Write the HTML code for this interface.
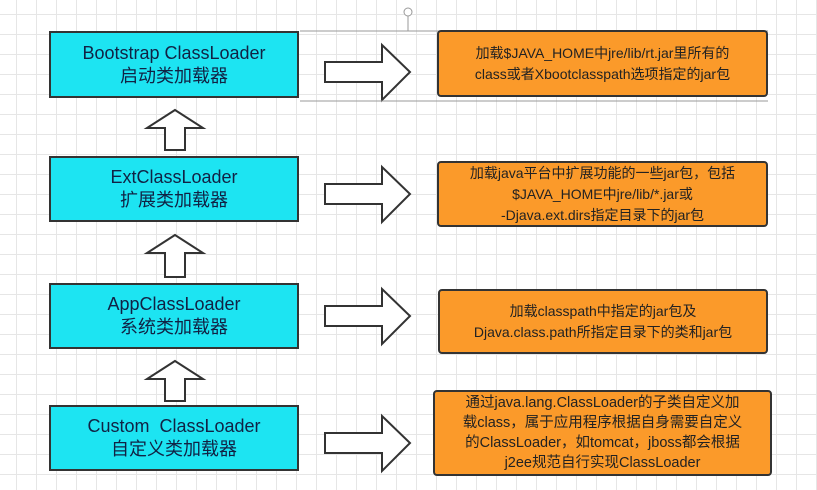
<!DOCTYPE html>
<html><head><meta charset="utf-8"><style>
body{margin:0;width:817px;height:490px;overflow:hidden;background:#fff;
background-image:linear-gradient(#e6e6e6 1px,transparent 1px),linear-gradient(90deg,#e6e6e6 1px,transparent 1px);background-size:20px 20px;background-position:-4px -6px;
font-family:"Liberation Sans","Noto Sans CJK SC",sans-serif;position:relative}
.c{position:absolute;left:49px;width:250px;background:#1de4f2;border:2px solid #333;box-sizing:border-box;text-align:center;font-size:18px;color:#124;line-height:23px;display:flex;flex-direction:column;justify-content:center}
.o{position:absolute;background:#fb9a2a;border:2px solid #333;border-radius:4px;box-sizing:border-box;text-align:center;font-size:14px;color:#222;line-height:21px;display:flex;flex-direction:column;justify-content:center}
svg{position:absolute;left:0;top:0}
</style></head><body>
<svg width="817" height="490">
<g fill="#fff" stroke="#333" stroke-width="2">
<polygon points="325,62 382,62 382,45 410,72 382,100 382,82 325,82"/>
<polygon points="325,184 382,184 382,167 410,194 382,222 382,204 325,204"/>
<polygon points="325,306 382,306 382,289 410,316 382,344 382,326 325,326"/>
<polygon points="325,433 382,433 382,416 410,443 382,471 382,453 325,453"/>
<polygon points="175,110 203,128 185,128 185,150 165,150 165,128 147,128"/>
<polygon points="175,235 203,253 185,253 185,277 165,277 165,253 147,253"/>
<polygon points="175,361 203,379 185,379 185,401 165,401 165,379 147,379"/>
</g>
<g stroke="#999" fill="none"><line x1="300" y1="31" x2="768" y2="31"/><line x1="300" y1="101" x2="768" y2="101"/><line x1="408" y1="12" x2="408" y2="31"/><circle cx="408" cy="12" r="4" fill="#fff"/></g>
</svg>
<div class="c" style="top:31px;height:67px">Bootstrap ClassLoader<br>启动类加载器</div>
<div class="c" style="top:156px;height:66px">ExtClassLoader<br>扩展类加载器</div>
<div class="c" style="top:283px;height:66px">AppClassLoader<br>系统类加载器</div>
<div class="c" style="top:405px;height:66px">Custom&nbsp; ClassLoader<br>自定义类加载器</div>
<div class="o" style="left:437px;top:30px;width:331px;height:67px">加载$JAVA_HOME中jre/lib/rt.jar里所有的<br>class或者Xbootclasspath选项指定的jar包</div>
<div class="o" style="left:437px;top:161px;width:331px;height:66px">加载java平台中扩展功能的一些jar包，包括<br>$JAVA_HOME中jre/lib/*.jar或<br>-Djava.ext.dirs指定目录下的jar包</div>
<div class="o" style="left:438px;top:289px;width:330px;height:65px">加载classpath中指定的jar包及<br>Djava.class.path所指定目录下的类和jar包</div>
<div class="o" style="left:433px;top:390px;width:339px;height:86px;line-height:20px;font-size:14.5px">通过java.lang.ClassLoader的子类自定义加<br>载class，属于应用程序根据自身需要自定义<br>的ClassLoader，如tomcat，jboss都会根据<br>j2ee规范自行实现ClassLoader</div>
</body></html>
